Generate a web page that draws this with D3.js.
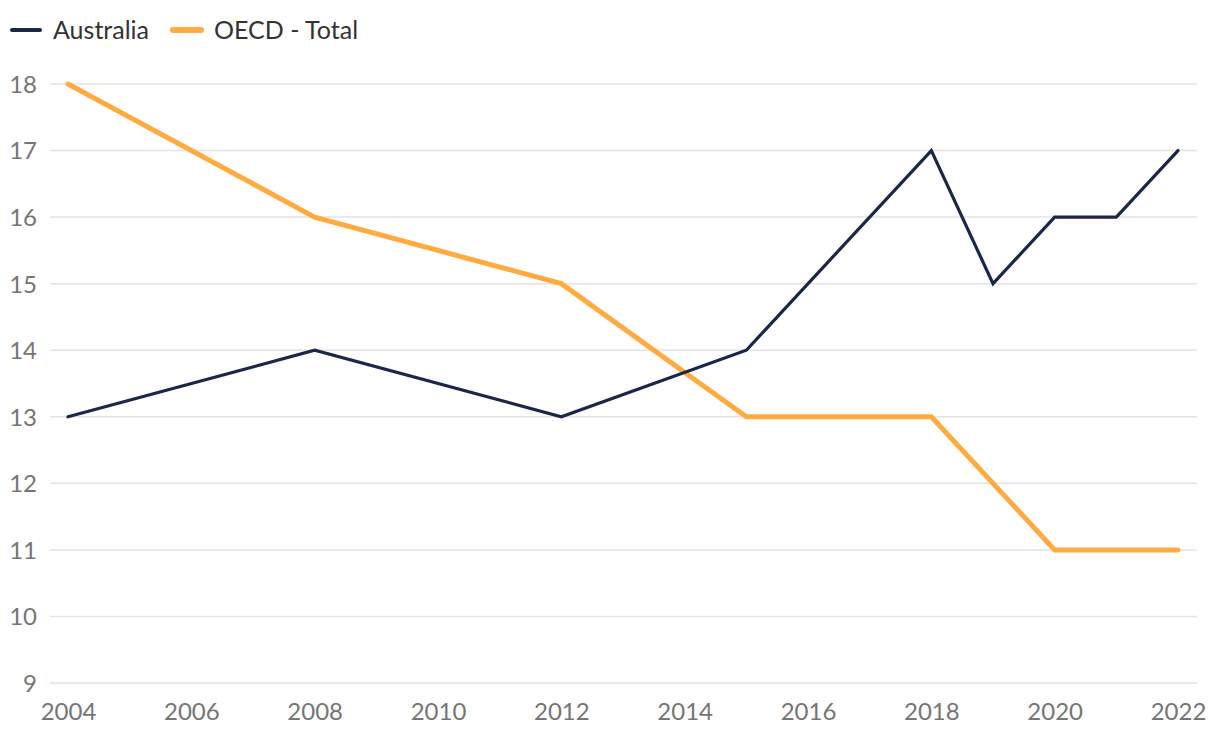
<!DOCTYPE html>
<html><head><meta charset="utf-8">
<script src="https://cdn.jsdelivr.net/npm/d3@7"></script>
<style>body{margin:0;background:#fff;}svg{display:block;font-family:Lato,"Noto Sans",sans-serif;}</style>
</head><body><svg id="c" width="1220" height="738"></svg>
<script>
const seriesNames = ["Australia", "OECD - Total"];
const seriesColors = ["#1b2748", "#ffab40"];
const seriesWidths = [3.2, 5];
const australiaYears = [2004, 2008, 2012, 2015, 2018, 2019, 2020, 2021, 2022];
const australiaValues = [13, 14, 13, 14, 17, 15, 16, 16, 17];
const oecdYears = [2004, 2008, 2012, 2015, 2018, 2020, 2021, 2022];
const oecdValues = [18, 16, 15, 13, 13, 11, 11, 11];
const xTicks = [2004, 2006, 2008, 2010, 2012, 2014, 2016, 2018, 2020, 2022];
const yTicks = [9, 10, 11, 12, 13, 14, 15, 16, 17, 18];

const svg = d3.select("#c");
const x = d3.scaleLinear().domain([2004, 2022]).range([68, 1178]);
const y = d3.scaleLinear().domain([9, 18]).range([683, 84]);

const yAxis = d3.axisLeft(y).tickValues(yTicks).tickSize(0).tickPadding(0).tickFormat(d3.format("d"));
const gy = svg.append("g").attr("transform", "translate(37,0)").call(yAxis);
gy.select(".domain").remove();
gy.selectAll("text").attr("fill", "#757575").attr("font-size", 24).attr("font-family", "Lato, sans-serif").attr("dy", "0.35em");
svg.append("g").selectAll("line").data(yTicks).join("line")
  .attr("x1", 50).attr("x2", 1197).attr("y1", d => y(d)).attr("y2", d => y(d))
  .attr("stroke", "#e3e3e3").attr("stroke-width", 1.5);

const xAxis = d3.axisBottom(x).tickValues(xTicks).tickSize(0).tickPadding(0).tickFormat(d3.format("d"));
const gx = svg.append("g").attr("transform", "translate(0,712)").call(xAxis);
gx.select(".domain").remove();
gx.selectAll("text").attr("fill", "#757575").attr("font-size", 24).attr("font-family", "Lato, sans-serif").attr("y", 0).attr("dy", "0.35em");

const line = d3.line().x(d => x(d[0])).y(d => y(d[1]));
const data = [d3.zip(australiaYears, australiaValues), d3.zip(oecdYears, oecdValues)];
[1, 0].forEach(i => {
  svg.append("path").datum(data[i]).attr("d", line)
    .attr("fill", "none").attr("stroke", seriesColors[i]).attr("stroke-width", seriesWidths[i])
    .attr("stroke-linejoin", "miter").attr("stroke-linecap", "round");
});

const legX = [10, 171];
seriesNames.forEach((n, i) => {
  const g = svg.append("g").attr("transform", `translate(${legX[i]},30)`);
  g.append("line").attr("x1", 2).attr("x2", 30).attr("y1", 0).attr("y2", 0)
    .attr("stroke", seriesColors[i]).attr("stroke-width", i === 0 ? 4 : 6).attr("stroke-linecap", "round");
  g.append("text").attr("x", 43).attr("y", 0).attr("dy", "0.35em")
    .attr("font-size", 25).attr("fill", "#333").text(n);
});
</script></body></html>
